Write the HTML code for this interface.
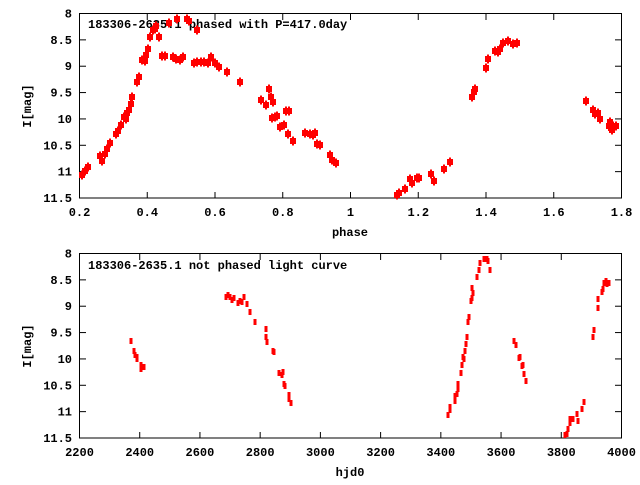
<!DOCTYPE html>
<html><head><meta charset="utf-8"><style>
body{margin:0;background:#fff}
svg text{font-family:"Liberation Mono",monospace;font-weight:bold;font-size:12px;fill:#000}
</style></head><body>
<svg id="s" width="640" height="480" xmlns="http://www.w3.org/2000/svg">
<rect width="640" height="480" fill="#fff"/>
<g stroke="#000" stroke-width="1" fill="none">
<rect x="79.5" y="13.5" width="542" height="184.5"/>
<rect x="79.5" y="253.5" width="542" height="184.5"/>
</g>
<g id="ticks" stroke="#000" stroke-width="1"></g>
<g id="labels"></g>
<text x="88" y="28">183306-2635.1 phased with P=417.0day</text>
<text x="88" y="269">183306-2635.1 not phased light curve</text>
<text x="350" y="236" text-anchor="middle">phase</text>
<text x="350" y="476" text-anchor="middle">hjd0</text>
<text transform="translate(31,106) rotate(-90)" text-anchor="middle">I[mag]</text>
<text transform="translate(31,346) rotate(-90)" text-anchor="middle">I[mag]</text>
<g id="pts" fill="#f00" stroke="#f00"></g>
</svg>
<script>
var NS="http://www.w3.org/2000/svg";
function el(p,t,a,txt){var e=document.createElementNS(NS,t);for(var k in a)e.setAttribute(k,a[k]);if(txt)e.textContent=txt;p.appendChild(e);}
var T=document.getElementById('ticks'),L=document.getElementById('labels'),P=document.getElementById('pts');
var yl=["8","8.5","9","9.5","10","10.5","11","11.5"];
[13.5,253.5].forEach(function(top){
 for(var i=0;i<8;i++){var y=top+i*184.5/7;
  if(i>0&&i<7){el(T,'line',{x1:80,x2:86,y1:y,y2:y});el(T,'line',{x1:615,x2:621,y1:y,y2:y});}
  el(L,'text',{x:72,y:y+4,'text-anchor':'end'},yl[i]);}
});
var xl1=["0.2","0.4","0.6","0.8","1","1.2","1.4","1.6","1.8"];
for(var i=0;i<9;i++){var x=79.5+i*542/8;
 if(i>0&&i<8){el(T,'line',{x1:x,x2:x,y1:198,y2:192});el(T,'line',{x1:x,x2:x,y1:14,y2:20});}
 el(L,'text',{x:x,y:216,'text-anchor':'middle'},xl1[i]);}
for(var i=0;i<10;i++){var x=79.5+i*542/9;
 if(i>0&&i<9){el(T,'line',{x1:x,x2:x,y1:438,y2:432});el(T,'line',{x1:x,x2:x,y1:254,y2:260});}
 el(L,'text',{x:x,y:456,'text-anchor':'middle'},String(2200+i*200));}
var p1=[[82,175],[85,171],[88,167],[100,156],[102,161],[105,154],[107,149],[110,143],[116,134],[118,131],[121,125],[124,117],[126,119],[127,113],[129,110],[131,104],[132,97],[137,82],[139,77],[142,60],[145,61],[146,55],[148,49],[150,37],[153,30],[155,29],[156,26],[159,37],[162,56],[165,56],[169,23],[173,57],[176,59],[177,19],[180,60],[183,57],[187,19],[189,21],[194,63],[197,30],[197,62],[201,62],[204,62],[208,63],[211,57],[215,63],[219,67],[227,72],[240,82],[261,100],[266,105],[269,89],[271,97],[273,102],[272,118],[275,117],[277,116],[280,127],[284,125],[286,111],[289,111],[288,134],[293,141],[305,133],[310,134],[313,135],[315,133],[317,144],[320,145],[330,155],[332,160],[336,163],[397,195],[399,193],[405,189],[410,179],[412,183],[417,178],[419,178],[431,174],[434,181],[444,169],[450,162],[472,97],[474,92],[475,89],[486,68],[488,59],[495,51],[498,52],[500,49],[503,43],[508,41],[513,44],[517,43],[586,101],[593,110],[595,114],[598,113],[600,119],[609,126],[611,128],[613,126],[616,126],[610,122],[612,130]];
p1.forEach(function(p){el(P,'rect',{x:p[0]-3,y:p[1]-3,width:6,height:6,stroke:'none'});el(P,'line',{x1:p[0],x2:p[0],y1:p[1]-4.5,y2:p[1]+4.5,'stroke-width':2});});
var p2=[[131,341],[134,351],[135,355],[137,357],[137,359],[141,365],[141,369],[142,367],[144,367],[226,297],[228,295],[230,297],[232,300],[234,298],[238,303],[240,301],[242,302],[244,297],[247,304],[250,312],[255,322],[266,329],[266,337],[267,342],[273,351],[274,352],[279,373],[282,375],[283,372],[284,384],[285,386],[289,395],[289,399],[291,403],
[448,415],[450,410],[450,407],[455,401],[455,396],[457,394],[458,389],[458,384],[461,373],[462,365],[463,357],[464,359],[465,351],[466,344],[467,337],[468,322],[469,317],[471,301],[472,298],[472,288],[473,293],[477,277],[479,270],[480,263],[484,259],[487,259],[488,261],[490,270],
[514,341],[516,345],[519,358],[520,357],[522,366],[523,365],[524,374],[526,381],
[565,435],[567,434],[568,429],[570,419],[570,423],[573,419],[577,414],[578,421],[582,409],[584,402],[593,337],[594,330],[598,308],[598,299],[602,292],[603,289],[604,283],[606,281],[607,284],[609,283]];
p2.forEach(function(p){el(P,'rect',{x:p[0]-1.5,y:p[1]-3,width:3,height:6,stroke:'none'});});
</script>
</body></html>
